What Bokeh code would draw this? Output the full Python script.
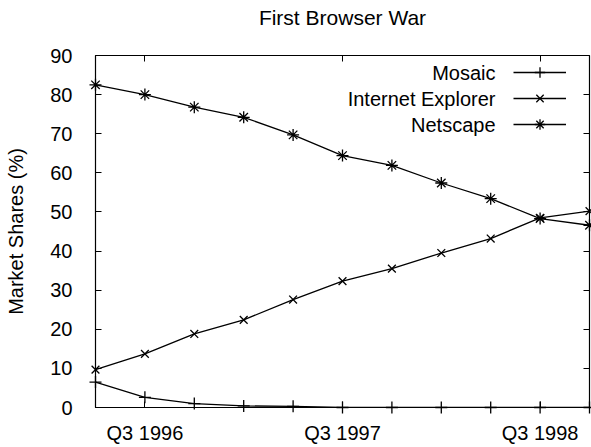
from bokeh.plotting import figure
from bokeh.models import Range1d, FixedTicker, LinearAxis, Legend, LegendItem, Label
from bokeh.embed import file_html
from bokeh.resources import INLINE

# ---- data ----
quarters = ["Q2 1996", "Q3 1996", "Q4 1996", "Q1 1997", "Q2 1997", "Q3 1997",
            "Q4 1997", "Q1 1998", "Q2 1998", "Q3 1998", "Q4 1998"]
mosaic = [6.5, 2.6, 1.0, 0.4, 0.3, 0, 0, 0, 0, 0, 0]
internet_explorer = [9.7, 13.7, 18.8, 22.4, 27.6, 32.3, 35.5, 39.5, 43.2, 48.5, 50.2]
netscape = [82.5, 80.0, 76.8, 74.2, 69.7, 64.4, 61.9, 57.4, 53.4, 48.3, 46.6]
x_tick_labels = ["Q3 1996", "Q3 1997", "Q3 1998"]
y_ticks = [0, 10, 20, 30, 40, 50, 60, 70, 80, 90]
series_names = ["Mosaic", "Internet Explorer", "Netscape"]
chart_title = "First Browser War"
y_title = "Market Shares (%)"

FONT = "Liberation Sans"
x = list(range(len(quarters)))
x_tick_pos = [quarters.index(t) for t in x_tick_labels]

W, H = 591, 447
ML, MR, MT, MB = 95, 2, 55, 40
FW, FH = W - ML - MR, H - MT - MB

p = figure(width=W, height=H, output_backend="svg", toolbar_location=None,
           x_range=Range1d(0, len(quarters) - 1), y_range=Range1d(y_ticks[0], y_ticks[-1]),
           min_border_left=ML, min_border_right=MR, min_border_top=MT, min_border_bottom=MB)
p.background_fill_color = "white"
p.border_fill_color = "white"
p.outline_line_color = "black"
p.outline_line_width = 1.2
p.grid.visible = False
p.title.text = ""
p.title.visible = False
p.title.standoff = 0

# bottom axis
xa = p.xaxis[0]
xa.ticker = FixedTicker(ticks=x_tick_pos)
xa.major_label_overrides = {pos: lab for pos, lab in zip(x_tick_pos, x_tick_labels)}
xa.major_tick_in = 6
xa.major_tick_out = 0
xa.minor_tick_line_color = None
xa.major_label_standoff = 14
xa.major_label_text_font = FONT
xa.major_label_text_font_size = "20px"
xa.major_label_text_color = "black"
xa.axis_line_color = "black"
xa.major_tick_line_color = "black"

# left axis
ya = p.yaxis[0]
ya.ticker = FixedTicker(ticks=y_ticks)
ya.major_tick_in = 6
ya.major_tick_out = 0
ya.minor_tick_line_color = None
ya.major_label_standoff = 23
ya.major_label_text_font = FONT
ya.major_label_text_font_size = "20px"
ya.major_label_text_color = "black"
ya.axis_label = y_title
ya.axis_label_text_font = FONT
ya.axis_label_text_font_size = "20px"
ya.axis_label_text_font_style = "normal"
ya.axis_label_text_color = "black"
ya.axis_label_standoff = 20
ya.axis_line_color = "black"

# mirrored axes (ticks only); the top axis carries the chart title as its label
top = LinearAxis(ticker=FixedTicker(ticks=x_tick_pos), major_label_text_font_size="1px",
                 major_label_text_color=None, major_label_standoff=0,
                 major_tick_in=6, major_tick_out=0,
                 minor_tick_line_color=None, axis_line_color=None,
                 axis_label=chart_title, axis_label_standoff=27,
                 axis_label_text_font=FONT, axis_label_text_font_size="21px",
                 axis_label_text_font_style="normal", axis_label_text_color="black")
right = LinearAxis(ticker=FixedTicker(ticks=y_ticks), major_label_text_font_size="1px",
                   major_label_text_color=None, major_label_standoff=0,
                   major_tick_in=6, major_tick_out=0,
                   minor_tick_line_color=None, axis_line_color=None)
p.add_layout(top, "above")
p.add_layout(right, "right")

# series
markers = [("cross", 12), ("x", 11), ("asterisk", 12)]
values = [mosaic, internet_explorer, netscape]
items = []
for name, vals, (marker, size) in zip(series_names, values, markers):
    lr = p.line(x, vals, line_color="black", line_width=1.3)
    sr = p.scatter(x, vals, marker=marker, size=size, line_color="black", line_width=1.3,
                   fill_color=None, level="overlay")
    items.append(LegendItem(label=" ", renderers=[lr, sr]))

# legend: samples drawn by Bokeh's Legend, names drawn to their left (gnuplot style)
ROW = 26
LEG_TOP = 59            # from top of canvas
GLYPH_X = 418           # from frame left
legend = Legend(items=items, location=(GLYPH_X, FH - (LEG_TOP - MT) - ROW * len(items)),
                orientation="vertical",
                glyph_width=53, glyph_height=ROW, label_height=ROW, label_width=0,
                label_standoff=0, spacing=0, padding=0, margin=0,
                label_text_font=FONT, label_text_font_size="20px", label_text_color="black",
                border_line_color=None, background_fill_alpha=0)
p.add_layout(legend)

for i, name in enumerate(series_names):
    cy = LEG_TOP + ROW * i + ROW / 2
    p.add_layout(Label(x=GLYPH_X - 18, y=FH - (cy - MT), x_units="screen", y_units="screen",
                       text=name, text_align="right", text_baseline="middle",
                       text_font=FONT, text_font_size="20px", text_color="black"))

open("out.html", "w").write(file_html(p, INLINE))
